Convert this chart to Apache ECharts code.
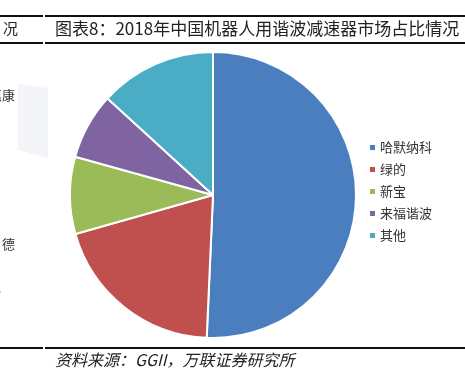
<!DOCTYPE html>
<html>
<head>
<meta charset="utf-8">
<script src="https://cdn.jsdelivr.net/npm/echarts@6/dist/echarts.min.js"></script>
<style>
html,body{margin:0;padding:0;background:#fff;}
#c{width:465px;height:377px;}
</style>
</head>
<body>
<div id="c"></div>
<script>
var categories = ['哈默纳科', '绿的', '新宝', '来福谐波', '其他'];
var shares = [50.7, 19.9, 8.7, 7.5, 13.2];
var colors = ['#4a7ebf', '#c0504d', '#9bbb59', '#8064a2', '#4bacc6'];
var titleText = '图表8：2018年中国机器人用谐波减速器市场占比情况';
var sourceText = '资料来源：GGII，万联证券研究所';

var chart = echarts.init(document.getElementById('c'), null, {renderer: 'canvas'});
var cjk = '"Noto Sans CJK SC", "Noto Sans", sans-serif';

var pieData = categories.map(function (n, i) {
  return {name: n, value: shares[i], itemStyle: {color: colors[i]}};
});

chart.setOption({
  animation: false,
  backgroundColor: '#ffffff',
  legend: {
    orient: 'vertical',
    left: 363,
    top: 136,
    itemWidth: 7,
    itemHeight: 7,
    itemGap: 9,
    icon: 'rect',
    textStyle: {fontFamily: cjk, fontSize: 13, color: '#333', padding: [0, 0, 0, -1]},
    data: categories
  },
  graphic: [
    {type: 'polygon', z: -1, silent: true,
      shape: {points: [[18, 84], [48, 88], [48, 158], [18, 150]]},
      style: {fill: 'rgba(230,233,240,0.45)'}},
    {type: 'rect', shape: {x: 0, y: 15, width: 43, height: 2}, style: {fill: '#111'}},
    {type: 'rect', shape: {x: 45, y: 15, width: 420, height: 2}, style: {fill: '#111'}},
    {type: 'rect', shape: {x: 0, y: 42, width: 43, height: 2}, style: {fill: '#111'}},
    {type: 'rect', shape: {x: 45, y: 42, width: 420, height: 2}, style: {fill: '#111'}},
    {type: 'rect', shape: {x: 0, y: 347, width: 43, height: 2}, style: {fill: '#111'}},
    {type: 'rect', shape: {x: 45, y: 347, width: 420, height: 2}, style: {fill: '#111'}},
    {type: 'text', left: 3, top: 21, style: {text: '况', font: '15px ' + cjk, fill: '#222'}},
    {type: 'text', left: 55, top: 20, style: {text: titleText, font: '17px ' + cjk, fill: '#222'}},
    {type: 'text', left: -11, top: 89, style: {text: '惠康', font: '13px ' + cjk, fill: '#333'}},
    {type: 'text', left: 2, top: 238, style: {text: '德', font: '13px ' + cjk, fill: '#333'}},
    {type: 'text', left: -2, top: 282, style: {text: '.', font: '12px ' + cjk, fill: '#333'}},
    {type: 'text', left: 55, top: 352, style: {text: sourceText, font: 'italic 16px ' + cjk, fill: '#222'}}
  ],
  series: [{
    type: 'pie',
    center: [213, 195],
    radius: 143,
    startAngle: 90,
    clockwise: true,
    label: {show: false},
    labelLine: {show: false},
    itemStyle: {borderColor: '#ffffff', borderWidth: 2},
    emphasis: {disabled: true},
    data: pieData
  }]
});
</script>
</body>
</html>
